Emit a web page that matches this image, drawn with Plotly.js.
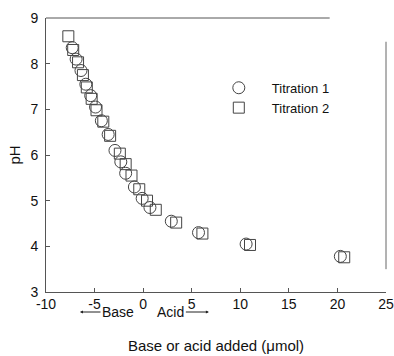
<!DOCTYPE html>
<html>
<head>
<meta charset="utf-8">
<script src="https://cdn.plot.ly/plotly-3.0.1.min.js"></script>
<style>html,body{margin:0;padding:0;background:#fff;}#chart{width:394px;height:356px;}</style>
</head>
<body>
<div id="chart"></div>
<script>
// Titration 1 (open circles)
const t1X = [-7.3, -6.9, -6.4, -5.9, -5.4, -4.9, -4.3, -3.6, -2.9, -2.3, -1.8, -0.9, -0.1, 0.7, 2.9, 5.7, 10.6, 20.3];
const t1Y = [8.35, 8.1, 7.85, 7.55, 7.3, 7.05, 6.75, 6.45, 6.1, 5.85, 5.6, 5.3, 5.05, 4.85, 4.55, 4.3, 4.05, 3.78];
// Titration 2 (open squares)
const t2X = [-7.7, -7.2, -6.7, -6.2, -5.8, -5.3, -4.8, -4.1, -3.4, -2.4, -1.8, -1.2, -0.4, 0.4, 1.3, 3.4, 6.1, 11.0, 20.7];
const t2Y = [8.6, 8.3, 8.03, 7.75, 7.48, 7.23, 6.98, 6.73, 6.42, 6.03, 5.8, 5.55, 5.25, 5.0, 4.8, 4.52, 4.28, 4.03, 3.76];
const seriesNames = ["Titration 1", "Titration 2"];
const xTicks = [-10, -5, 0, 5, 10, 15, 20, 25];
const yTicks = [3, 4, 5, 6, 7, 8, 9];

const font = {family: "Liberation Sans, Arial, sans-serif", size: 13, color: "#111"};

const traces = [
  {x: t1X, y: t1Y, name: seriesNames[0], mode: "markers", type: "scatter",
   marker: {symbol: "circle-open", size: 12, color: "#444", line: {width: 1, color: "#444"}}},
  {x: t2X, y: t2Y, name: seriesNames[1], mode: "markers", type: "scatter",
   marker: {symbol: "square-open", size: 11, color: "#444", line: {width: 1, color: "#444"}}}
];

const layout = {
  width: 394, height: 356,
  margin: {l: 46, r: 8, t: 18, b: 64},
  paper_bgcolor: "#fff", plot_bgcolor: "#fff",
  font: font,
  showlegend: true,
  legend: {x: 0.47, y: 0.80, xanchor: "left", yanchor: "top", bgcolor: "rgba(0,0,0,0)",
           font: {family: font.family, size: 13, color: "#111"}, itemwidth: 56, tracegroupgap: 0},
  xaxis: {
    range: [-10, 25], tickvals: xTicks, ticktext: xTicks.map(String),
    ticks: "inside", ticklen: 4, tickcolor: "#555", showline: true, linecolor: "#555", linewidth: 1,
    showgrid: false, zeroline: false, tickfont: {size: 14}, ticklabelstandoff: -1,
    title: {text: "Base or acid added (\u03bcmol)", font: {size: 15}, standoff: 29}
  },
  yaxis: {
    range: [3, 9], tickvals: yTicks, ticktext: yTicks.map(String),
    ticks: "inside", ticklen: 4, tickcolor: "#555", showline: true, linecolor: "#555", linewidth: 1,
    showgrid: false, zeroline: false, tickfont: {size: 14}, ticklabelstandoff: 4,
    title: {text: "pH", font: {size: 15}, standoff: 6}
  },
  shapes: [
    {type: "line", xref: "x", yref: "paper", x0: -10, x1: 19.2, y0: 1, y1: 1, line: {color: "#555", width: 1}},
    {type: "line", xref: "paper", yref: "y", x0: 1, x1: 1, y0: 3.5, y1: 8.48, line: {color: "#666", width: 1}}
  ],
  annotations: [
    {xref: "paper", yref: "paper", x: 0.1, y: -0.073, text: "Base", showarrow: true, ax: 38, ay: 0,
     arrowhead: 2, arrowsize: 0.6, arrowwidth: 1, arrowcolor: "#222", font: {size: 14}},
    {xref: "paper", yref: "paper", x: 0.479, y: -0.073, text: "Acid", showarrow: true, ax: -38, ay: 0,
     arrowhead: 2, arrowsize: 0.6, arrowwidth: 1, arrowcolor: "#222", font: {size: 14}}
  ]
};

Plotly.newPlot("chart", traces, layout, {displayModeBar: false, staticPlot: true});
</script>
</body>
</html>
